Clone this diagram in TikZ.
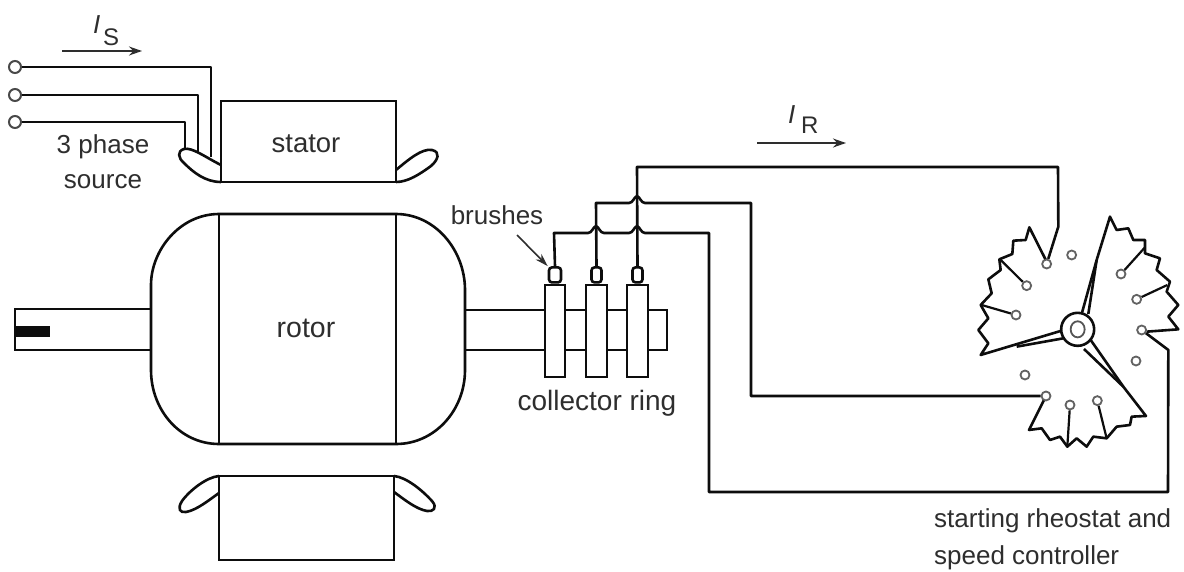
\documentclass[tikz,border=0pt]{standalone}
\usepackage{fontspec}
\setmainfont{Liberation Sans}
\usetikzlibrary{arrows.meta}
\definecolor{ink}{gray}{0.05}
\definecolor{labelink}{gray}{0.18}
\tikzset{
  wire/.style={draw=ink,line width=2.6pt,line join=round},
  thin wire/.style={draw=ink,line width=2.2pt,line join=round},
  terminal/.style={circle,draw=ink!75,fill=white,line width=2pt,minimum size=12pt,inner sep=0pt},
  contact/.style={circle,draw=ink!65,fill=white,line width=1.8pt,minimum size=9pt,inner sep=0pt},
  box/.style={rectangle,draw=ink,fill=white,line width=2.6pt,inner sep=0pt},
  label/.style={text=labelink,font=\fontsize{26}{29}\selectfont,inner sep=0pt,anchor=base},
  current/.style={draw=labelink,line width=1.5pt,-{Stealth[length=13pt,width=9pt]}}
}
\begin{document}
\begin{tikzpicture}[x=1pt,y=-1pt]
\useasboundingbox (0,0) rectangle (1184,571);
\fill[white] (0,0) rectangle (1184,571);

% stator end windings and bodies
\draw[wire,fill=white] (221,165) .. controls (205,157) and (192,147) .. (184,149)
  .. controls (177,151) and (178,158) .. (184,163) .. controls (193,172) and (205,182) .. (221,182);
\draw[wire,fill=white] (396,170) .. controls (408,160) and (422,148) .. (432,150)
  .. controls (441,152) and (438,160) .. (431,166) .. controls (420,174) and (408,182) .. (396,182);
\draw[wire,fill=white] (219,476) .. controls (207,477) and (190,490) .. (182,501)
  .. controls (177,509) and (180,513) .. (186,512) .. controls (197,510) and (209,500) .. (219,493);
\draw[wire,fill=white] (394,476) .. controls (406,477) and (422,490) .. (432,501)
  .. controls (438,508) and (433,512) .. (427,511) .. controls (416,509) and (405,500) .. (394,492);
\node[box,minimum width=175pt,minimum height=81pt] (stator) at (308.5,141.5) {};
\node[box,minimum width=175pt,minimum height=84pt] (lowstator) at (306.5,518) {};

% source
\node[terminal] (t1) at (15,67) {};
\node[terminal] (t2) at (15,95) {};
\node[terminal] (t3) at (15,122) {};
\coordinate (w1) at (211,157);
\coordinate (w2) at (198,152);
\coordinate (w3) at (185,149);
\draw[wire] (t1) -- (211,67) -- (w1);
\draw[wire] (t2) -- (198,95) -- (w2);
\draw[wire] (t3) -- (185,122) -- (w3);

% shafts
\node[box,minimum width=136pt,minimum height=41pt] (lshaft) at (83,329.5) {};
\fill[ink] (15,326) rectangle (50,337);
\node[box,minimum width=202pt,minimum height=40pt] (rshaft) at (566,330) {};

% rotor
\draw[wire,fill=white] (219,214) -- (396,214)
  .. controls (435,214) and (465,250) .. (465,290) -- (465,370)
  .. controls (465,410) and (435,444) .. (396,444) -- (219,444)
  .. controls (180,444) and (151,410) .. (151,370) -- (151,285)
  .. controls (151,250) and (180,214) .. (219,214) -- cycle;
\draw[wire] (219,214) -- (219,444);
\draw[wire] (396,214) -- (396,444);

% collector rings and brushes
\node[box,minimum width=20pt,minimum height=92pt] (ring1) at (555,331) {};
\node[box,minimum width=21pt,minimum height=92pt] (ring2) at (596.5,331) {};
\node[box,minimum width=21pt,minimum height=92pt] (ring3) at (637.5,331) {};
\node[box,rounded corners=3pt,minimum width=12pt,minimum height=15pt,anchor=south] (b1) at (ring1.north) {};
\node[box,rounded corners=3pt,minimum width=10pt,minimum height=15pt,anchor=south] (b2) at (ring2.north) {};
\node[box,rounded corners=3pt,minimum width=10pt,minimum height=15pt,anchor=south] (b3) at (ring3.north) {};

% rheostat
\begin{scope}[shift={(960,190)},x=0.3333pt,y=-0.3333pt]
\draw[wire]
  (260,215) -- (208,112) -- (197,150) -- (160,152) -- (157,192) -- (118,208) -- (122,240)
  -- (85,268) -- (95,310) -- (62,345) -- (85,385) -- (55,420) -- (85,460) -- (62,495)
  -- (305,422);
\draw[wire]
  (365,372) -- (410,210) -- (450,80) -- (470,120) -- (505,115) -- (520,150) -- (555,150)
  -- (555,190) -- (600,205) -- (590,240) -- (630,275) -- (620,305) -- (655,345) -- (625,380)
  -- (655,418) -- (560,425);
\draw[wire]
  (258,618) -- (207,720) -- (245,715) -- (270,750) -- (300,740) -- (322,770) -- (350,745)
  -- (380,770) -- (400,740) -- (440,745) -- (470,710) -- (510,705) -- (515,680) -- (558,678)
  -- (490,590) -- (392,450);
% arm inner edges
\draw[wire] (170,470) -- (310,445);
\draw[wire] (410,210) -- (385,372);
\draw[wire] (372,477) -- (490,590);
% hub
\node[circle,draw=ink,fill=white,line width=2.6pt,minimum size=33pt,inner sep=0pt] (hub) at (353,418) {};
\node[circle,draw=ink!70,fill=white,line width=1.8pt,minimum size=14pt,inner sep=0pt,yscale=1.15] (hubin) at (353,418) {};
% contacts
\node[contact] (c1) at (260,222) {};
\node[contact] (c2) at (335,195) {};
\node[contact] (c3) at (200,287) {};
\node[contact] (c4) at (168,375) {};
\node[contact] (c5) at (483,252) {};
\node[contact] (c6) at (530,328) {};
\node[contact] (c7) at (545,420) {};
\node[contact] (c8) at (528,513) {};
\node[contact] (c9) at (195,555) {};
\node[contact] (c10) at (258,618) {};
\node[contact] (c11) at (330,645) {};
\node[contact] (c12) at (412,632) {};
\coordinate (k3) at (120,208);
\coordinate (k4) at (65,345);
\coordinate (k5) at (555,172);
\coordinate (k6) at (622,285);
\coordinate (k11) at (322,770);
\coordinate (k12) at (440,745);
\coordinate (elbowa) at (295,110);
\coordinate (elbowb) at (625,480);
\end{scope}
\draw[thin wire] (c3) -- (k3);
\draw[thin wire] (c4) -- (k4);
\draw[thin wire] (c5) -- (k5);
\draw[thin wire] (c6) -- (k6);
\draw[thin wire] (c11) -- (k11);
\draw[thin wire] (c12) -- (k12);

% rotor circuit
\draw[wire] (b3.north) -- (637,167) -- (1058,167) -- (elbowa) -- (c1);
\draw[wire] (b2.north) -- (596,203) -- (629,203)
  .. controls (633,203) and (634,197) .. (637,196) .. controls (640,197) and (641,203) .. (645,203)
  -- (751,203) -- (751,396) -- (c10);
\draw[wire] (b1.north) -- (554,233) -- (588,233)
  .. controls (592,233) and (593,227) .. (596,226) .. controls (599,227) and (600,233) .. (604,233)
  -- (629,233)
  .. controls (633,233) and (634,227) .. (637,226) .. controls (640,227) and (641,233) .. (645,233)
  -- (709,233) -- (709,492) -- (1168,492) -- (elbowb) -- (c7);

% labels
\node[label] (ltop) at (103,153) {3 phase};
\node[label] (lsrc) at (103,188) {source};
\node[label,font=\fontsize{27.5}{30}\selectfont] (lstat) at (306,152) {stator};
\node[label,font=\fontsize{28.5}{30}\selectfont] (lrot) at (306,337) {rotor};
\node[label,font=\fontsize{28}{30}\selectfont] (lcoll) at (597,410) {collector ring};
\node[label] (lbr) at (497,224) {brushes};
\coordinate (brtail) at (517,235);
\draw[draw=labelink,line width=1.6pt,-{Stealth[length=13pt,width=8pt]}] (brtail) -- (b1.north west);
\node[label,anchor=base west] (lst) at (934,527) {starting rheostat and};
\node[label,anchor=base west] (lsp) at (934,564) {speed controller};
\node[label,anchor=base west,font=\fontsize{26}{28}\selectfont\itshape] (is) at (93,33) {I};
\node[label,anchor=base west,font=\fontsize{24}{25}\selectfont] (iss) at (103,45) {S};
\coordinate (isa) at (62,51);
\coordinate (isb) at (142,51);
\draw[current] (isa) -- (isb);
\node[label,anchor=base west,font=\fontsize{26}{28}\selectfont\itshape] (ir) at (788,123) {I};
\node[label,anchor=base west,font=\fontsize{24}{25}\selectfont] (irs) at (801,133) {R};
\coordinate (ira) at (757,143);
\coordinate (irb) at (846,143);
\draw[current] (ira) -- (irb);
\end{tikzpicture}
\end{document}
